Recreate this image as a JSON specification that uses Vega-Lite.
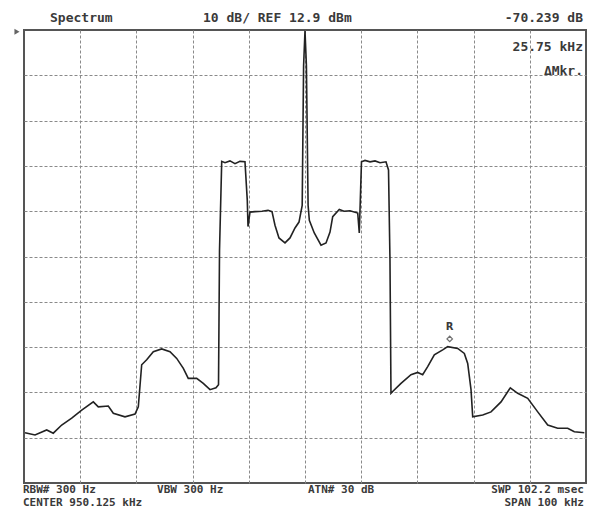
{
  "$schema": "https://vega.github.io/schema/vega-lite/v6.json",
  "width": 562,
  "height": 453,
  "autosize": {"type": "none"},
  "padding": {"left": 24, "top": 30, "right": 5, "bottom": 27},
  "background": "white",
  "data": {"values": [{}]},
  "config": {
    "view": {"stroke": "#555", "strokeWidth": 2},
    "text": {"font": "DejaVu Sans Mono", "fontSize": 13, "fontWeight": "bold", "color": "#3a3a3a", "baseline": "middle"}
  },
  "datasets": {
    "trace": [
      {"f": -49.82, "dBm": -76.0}, {"f": -48.04, "dBm": -76.5}, {"f": -45.96, "dBm": -75.4}, {"f": -44.79, "dBm": -76.1},
      {"f": -43.29, "dBm": -74.3}, {"f": -41.51, "dBm": -72.8}, {"f": -39.73, "dBm": -71.0}, {"f": -37.67, "dBm": -69.2},
      {"f": -36.78, "dBm": -70.3}, {"f": -35.0, "dBm": -70.1}, {"f": -34.11, "dBm": -71.7}, {"f": -32.03, "dBm": -72.5},
      {"f": -30.25, "dBm": -71.9}, {"f": -29.66, "dBm": -70.3}, {"f": -29.06, "dBm": -61.0}, {"f": -28.17, "dBm": -59.9},
      {"f": -26.99, "dBm": -58.1}, {"f": -25.5, "dBm": -57.5}, {"f": -24.02, "dBm": -58.1}, {"f": -22.83, "dBm": -59.6},
      {"f": -21.65, "dBm": -61.8}, {"f": -20.77, "dBm": -64.0}, {"f": -19.27, "dBm": -64.0}, {"f": -18.1, "dBm": -65.1},
      {"f": -16.9, "dBm": -66.5}, {"f": -15.84, "dBm": -66.1}, {"f": -15.39, "dBm": -65.4}, {"f": -15.21, "dBm": -35.7},
      {"f": -14.82, "dBm": -16.1}, {"f": -14.23, "dBm": -16.4}, {"f": -13.35, "dBm": -16.0}, {"f": -12.46, "dBm": -16.6},
      {"f": -11.57, "dBm": -16.1}, {"f": -10.68, "dBm": -16.2}, {"f": -10.27, "dBm": -24.7}, {"f": -10.14, "dBm": -30.5},
      {"f": -9.79, "dBm": -27.3}, {"f": -8.9, "dBm": -27.2}, {"f": -7.65, "dBm": -27.1}, {"f": -6.58, "dBm": -26.9},
      {"f": -5.87, "dBm": -27.2}, {"f": -5.34, "dBm": -30.2}, {"f": -4.63, "dBm": -33.0}, {"f": -3.56, "dBm": -34.1},
      {"f": -2.67, "dBm": -33.0}, {"f": -1.78, "dBm": -30.8}, {"f": -1.07, "dBm": -29.5}, {"f": -0.5, "dBm": -25.8},
      {"f": -0.25, "dBm": 5.0}, {"f": 0.0, "dBm": 12.7}, {"f": 0.25, "dBm": 5.0}, {"f": 0.55, "dBm": -25.8},
      {"f": 0.77, "dBm": -29.1}, {"f": 1.65, "dBm": -31.9}, {"f": 2.85, "dBm": -34.6}, {"f": 3.74, "dBm": -34.1},
      {"f": 4.45, "dBm": -31.7}, {"f": 4.93, "dBm": -28.3}, {"f": 6.1, "dBm": -26.7}, {"f": 6.94, "dBm": -27.1},
      {"f": 8.01, "dBm": -27.0}, {"f": 9.38, "dBm": -27.5}, {"f": 9.66, "dBm": -31.9}, {"f": 9.84, "dBm": -24.7},
      {"f": 10.05, "dBm": -16.2}, {"f": 10.68, "dBm": -15.9}, {"f": 11.57, "dBm": -16.2}, {"f": 12.46, "dBm": -16.0},
      {"f": 13.35, "dBm": -16.4}, {"f": 14.41, "dBm": -16.2}, {"f": 14.86, "dBm": -18.0}, {"f": 15.12, "dBm": -37.8},
      {"f": 15.3, "dBm": -67.3}, {"f": 15.6, "dBm": -66.9}, {"f": 17.08, "dBm": -65.1}, {"f": 18.86, "dBm": -63.2},
      {"f": 20.05, "dBm": -62.7}, {"f": 20.94, "dBm": -63.2}, {"f": 21.83, "dBm": -61.4}, {"f": 23.01, "dBm": -58.8},
      {"f": 24.5, "dBm": -57.7}, {"f": 25.39, "dBm": -57.0}, {"f": 27.17, "dBm": -57.4}, {"f": 28.35, "dBm": -58.5},
      {"f": 28.95, "dBm": -60.7}, {"f": 29.54, "dBm": -66.5}, {"f": 29.84, "dBm": -72.5}, {"f": 31.62, "dBm": -72.1},
      {"f": 33.1, "dBm": -71.4}, {"f": 34.88, "dBm": -69.2}, {"f": 36.53, "dBm": -66.1}, {"f": 37.85, "dBm": -67.3},
      {"f": 39.63, "dBm": -68.4}, {"f": 41.41, "dBm": -71.4}, {"f": 43.19, "dBm": -74.3}, {"f": 44.96, "dBm": -75.0},
      {"f": 46.74, "dBm": -75.0}, {"f": 47.92, "dBm": -75.8}, {"f": 49.7, "dBm": -76.0}
    ]
  },
  "layer": [
    {
      "data": {"name": "trace"},
      "mark": {"type": "line", "color": "#222", "strokeWidth": 1.6, "clip": true},
      "encoding": {
        "x": {
          "field": "f", "type": "quantitative",
          "scale": {"domain": [-50, 50], "nice": false, "zero": false},
          "axis": {"values": [-40, -30, -20, -10, 0, 10, 20, 30, 40], "labels": false, "ticks": false, "domain": false, "title": null,
                   "grid": true, "gridColor": "#8a8a8a", "gridDash": [3, 2], "gridWidth": 1}
        },
        "y": {
          "field": "dBm", "type": "quantitative",
          "scale": {"domain": [-87.1, 12.9], "nice": false, "zero": false},
          "axis": {"values": [-77.1, -67.1, -57.1, -47.1, -37.1, -27.1, -17.1, -7.1, 2.9], "labels": false, "ticks": false, "domain": false, "title": null,
                   "grid": true, "gridColor": "#8a8a8a", "gridDash": [3, 2], "gridWidth": 1}
        }
      }
    },
    {
      "mark": {"type": "point", "shape": "diamond", "filled": false, "color": "#333", "size": 30, "strokeWidth": 1.2},
      "encoding": {"x": {"datum": 25.75, "type": "quantitative"}, "y": {"datum": -55.3, "type": "quantitative"}}
    },
    {
      "mark": {"type": "text", "fontSize": 10, "font": "DejaVu Sans"},
      "encoding": {"x": {"datum": 25.75, "type": "quantitative"}, "y": {"datum": -52.7, "type": "quantitative"}, "text": {"value": "R"}}
    },
    {
      "mark": {"type": "point", "shape": "triangle-right", "filled": true, "color": "#222", "size": 35},
      "encoding": {"x": {"datum": -51.25, "type": "quantitative"}, "y": {"datum": 12.5, "type": "quantitative"}}
    },
    {
      "mark": {"type": "text", "align": "left"},
      "encoding": {"x": {"datum": -45.37, "type": "quantitative"}, "y": {"datum": 15.48, "type": "quantitative"}, "text": {"value": "Spectrum"}}
    },
    {
      "mark": {"type": "text", "align": "left"},
      "encoding": {"x": {"datum": -18.15, "type": "quantitative"}, "y": {"datum": 15.48, "type": "quantitative"}, "text": {"value": "10 dB/ REF 12.9 dBm"}}
    },
    {
      "mark": {"type": "text", "align": "right"},
      "encoding": {"x": {"datum": 49.47, "type": "quantitative"}, "y": {"datum": 15.48, "type": "quantitative"}, "text": {"value": "-70.239 dB"}}
    },
    {
      "mark": {"type": "text", "align": "right"},
      "encoding": {"x": {"datum": 49.47, "type": "quantitative"}, "y": {"datum": 9.21, "type": "quantitative"}, "text": {"value": "25.75 kHz"}}
    },
    {
      "mark": {"type": "text", "align": "right"},
      "encoding": {"x": {"datum": 49.47, "type": "quantitative"}, "y": {"datum": 3.85, "type": "quantitative"}, "text": {"value": "ΔMkr."}}
    },
    {
      "mark": {"type": "text", "align": "left", "fontSize": 11},
      "encoding": {"x": {"datum": -50.18, "type": "quantitative"}, "y": {"datum": -88.71, "type": "quantitative"}, "text": {"value": "RBW# 300 Hz"}}
    },
    {
      "mark": {"type": "text", "align": "left", "fontSize": 11},
      "encoding": {"x": {"datum": -26.33, "type": "quantitative"}, "y": {"datum": -88.71, "type": "quantitative"}, "text": {"value": "VBW 300 Hz"}}
    },
    {
      "mark": {"type": "text", "align": "left", "fontSize": 11},
      "encoding": {"x": {"datum": 0.53, "type": "quantitative"}, "y": {"datum": -88.71, "type": "quantitative"}, "text": {"value": "ATN# 30 dB"}}
    },
    {
      "mark": {"type": "text", "align": "right", "fontSize": 11},
      "encoding": {"x": {"datum": 49.64, "type": "quantitative"}, "y": {"datum": -88.71, "type": "quantitative"}, "text": {"value": "SWP  102.2 msec"}}
    },
    {
      "mark": {"type": "text", "align": "left", "fontSize": 11},
      "encoding": {"x": {"datum": -50.18, "type": "quantitative"}, "y": {"datum": -91.58, "type": "quantitative"}, "text": {"value": "CENTER  950.125 kHz"}}
    },
    {
      "mark": {"type": "text", "align": "right", "fontSize": 11},
      "encoding": {"x": {"datum": 49.64, "type": "quantitative"}, "y": {"datum": -91.58, "type": "quantitative"}, "text": {"value": "SPAN  100 kHz"}}
    }
  ]
}
